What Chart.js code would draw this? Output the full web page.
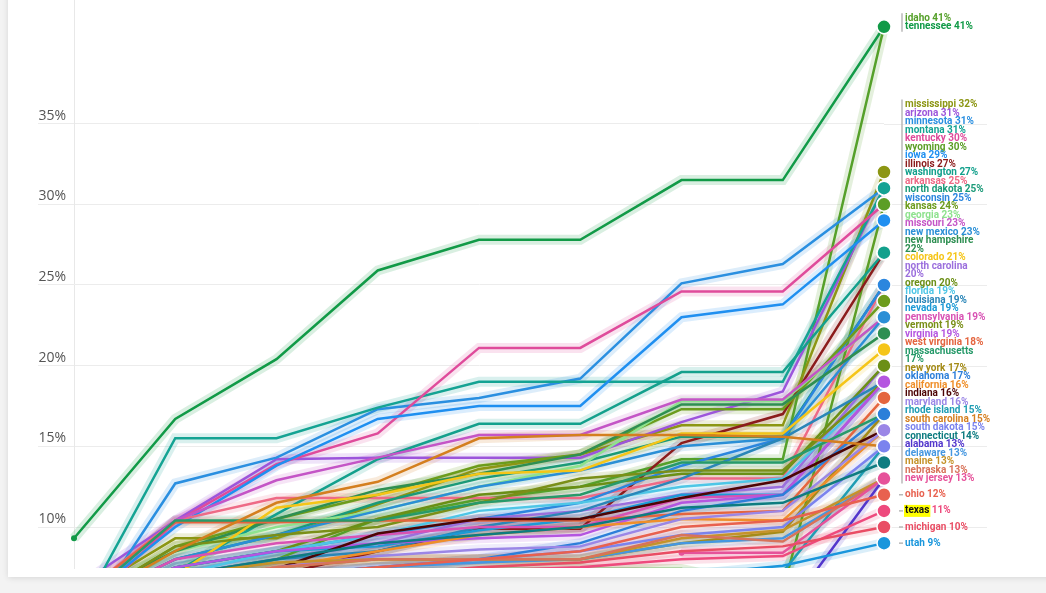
<!DOCTYPE html>
<html>
<head>
<meta charset="utf-8">
<script src="https://cdn.jsdelivr.net/npm/chart.js@4.4.1/dist/chart.umd.min.js"></script>
<style>
  html, body { margin: 0; padding: 0; background: #f3f3f3; overflow: hidden; width: 1046px; height: 593px; }
  #card { position: absolute; left: 8px; top: -10px; width: 1070px; height: 587px; background: #fff; box-shadow: 0 1px 6px rgba(0,0,0,0.12); overflow: hidden; }
  #wrap { position: absolute; left: 0; top: 2px; width: 1038px; height: 586px; }
</style>
</head>
<body>
<div id="card"><div id="wrap"><canvas id="chart"></canvas></div></div>
<script>
const periods = ['1', '2', '3', '4', '5', '6', '7', '8', '9'];
const yTicks = [10, 15, 20, 25, 30, 35];

const states = [
  'idaho', 'tennessee', 'mississippi', 'arizona', 'minnesota', 'montana', 'kentucky', 'wyoming',
  'iowa', 'illinois', 'washington', 'arkansas', 'north dakota', 'wisconsin', 'kansas', 'georgia',
  'missouri', 'new mexico', 'new hampshire', 'colorado', 'north carolina', 'oregon', 'florida',
  'louisiana', 'nevada', 'pennsylvania', 'vermont', 'virginia', 'west virginia', 'massachusetts',
  'new york', 'oklahoma', 'california', 'indiana', 'maryland', 'rhode island', 'south carolina',
  'south dakota', 'connecticut', 'alabama', 'delaware', 'maine', 'nebraska', 'new jersey',
  'ohio', 'texas', 'michigan', 'utah'
];

const colors = [
  '#55a02a', '#119a47', '#8c9613', '#9c55db', '#2a8fe0', '#14a393', '#df4b9b', '#5c9e26',
  '#1f8ff0', '#8b1c1c', '#13a08c', '#ee6a86', '#1b9a78', '#2b86de', '#6c9c1c', '#8ee28e',
  '#c455c6', '#2b8fd6', '#2e8f52', '#f5c518', '#9b6fdd', '#6b8f16', '#4ec6e6',
  '#2a86b8', '#1c9ad6', '#d852b4', '#7a8f18', '#b456e0', '#e4653f', '#279a6a',
  '#a48b17', '#2c7fd9', '#ef8f2a', '#4d0505', '#9b86e6', '#1f9db3', '#d47f1f',
  '#7b83ee', '#0e7c80', '#5236cc', '#4597e0', '#c5932a', '#d8735a', '#e6529a',
  '#e8614f', '#ee4a7d', '#e94d64', '#1996dc'
];

const wrapped = ['new hampshire', 'north carolina', 'massachusetts'];
const highlighted = ['texas'];

// percent values per period
const idaho         = [5.0, 6.5, 8.0, 10.5, 11.7, 12.5, 14.2, 14.2, 41];
const tennessee     = [9.3, 16.7, 20.4, 25.9, 27.8, 27.8, 31.5, 31.5, 41];
const mississippi   = [5.5, 9.3, 9.3, 11.4, 13.6, 14.5, 16.3, 16.3, 32];
const arizona       = [6.2, 10.4, 14.2, 14.3, 14.3, 14.3, 16.5, 18.4, 31];
const minnesota     = [3.2, 12.7, 14.3, 17.3, 18.0, 19.2, 25.1, 26.3, 31];
const montana       = [4.0, 15.5, 15.5, 17.4, 19.0, 19.0, 19.0, 19.0, 31];
const kentucky      = [4.5, 10.3, 13.9, 15.8, 21.1, 21.1, 24.6, 24.6, 30];
const wyoming       = [4.5, 6.0, 6.8, 7.2, 7.4, 7.4, 7.4, 6.0, 30];
const iowa          = [5.0, 10.0, 13.8, 16.7, 17.5, 17.5, 23.0, 23.8, 29];
const illinois      = [5.0, 6.0, 7.0, 8.5, 9.9, 9.9, 15.2, 17.0, 27];
const washington    = [5.5, 7.2, 10.8, 14.2, 16.4, 16.4, 19.6, 19.6, 27];
const arkansas      = [5.5, 10.4, 11.8, 11.8, 11.8, 11.8, 13.0, 13.0, 25];
const northDakota   = [5.0, 8.0, 9.5, 11.5, 13.0, 14.0, 15.6, 15.6, 25];
const wisconsin     = [4.5, 7.5, 8.5, 9.5, 10.5, 11.5, 13.8, 15.5, 25];
const kansas        = [5.0, 8.8, 10.5, 12.0, 13.8, 14.5, 17.3, 17.3, 24];
const georgia       = [5.5, 8.5, 10.0, 11.0, 12.5, 13.8, 17.8, 17.8, 23];
const missouri      = [5.0, 10.4, 12.9, 14.3, 15.7, 15.7, 17.9, 17.9, 23];
const newMexico     = [5.0, 8.0, 9.5, 11.0, 12.5, 13.5, 15.0, 15.5, 23];
const newHampshire  = [5.5, 8.5, 10.5, 12.3, 13.3, 14.5, 17.6, 17.6, 22];
const colorado      = [4.5, 7.0, 11.2, 12.0, 13.3, 13.5, 15.8, 15.8, 21];
const northCarolina = [4.5, 7.0, 8.0, 9.0, 10.5, 11.0, 12.0, 12.5, 20];
const oregon        = [5.0, 7.5, 8.5, 10.5, 12.0, 12.5, 13.3, 13.3, 20];
const florida       = [5.0, 7.0, 8.5, 9.5, 11.0, 11.5, 12.5, 13.0, 19];
const louisiana     = [4.5, 7.0, 8.0, 8.5, 10.0, 11.0, 13.0, 15.5, 19];
const nevada        = [4.5, 7.5, 8.5, 8.8, 9.8, 10.5, 12.0, 12.0, 19];
const pennsylvania  = [5.0, 8.0, 9.0, 9.5, 10.0, 10.0, 11.8, 12.0, 19];
const vermont       = [5.0, 8.8, 9.5, 10.0, 11.5, 13.0, 13.5, 13.5, 19];
const virginia      = [5.0, 7.5, 8.5, 9.0, 9.3, 9.5, 11.5, 12.0, 19];
const westVirginia  = [5.5, 10.3, 10.3, 10.4, 10.4, 10.4, 10.8, 11.0, 18];
const massachusetts = [5.0, 10.4, 10.4, 10.4, 11.5, 12.0, 14.0, 14.0, 17];
const newYork       = [4.5, 6.5, 7.5, 8.0, 8.0, 8.0, 9.0, 9.7, 17];
const oklahoma      = [4.5, 6.5, 7.0, 7.5, 8.0, 9.0, 11.0, 12.0, 17];
const california    = [5.0, 6.5, 7.5, 8.5, 9.5, 10.0, 10.5, 10.4, 16];
const indiana       = [5.0, 6.0, 7.4, 9.6, 10.5, 10.5, 11.8, 12.9, 16];
const maryland      = [4.5, 6.5, 7.5, 8.2, 8.6, 8.8, 10.5, 11.0, 16];
const rhodeIsland   = [null, 7.2, 7.2, 7.2, 7.2, 7.2, 7.2, 7.2, 15];
const southCarolina = [5.0, 8.5, 11.5, 12.8, 15.5, 15.7, 15.7, 15.6, 15];
const southDakota   = [4.5, 6.5, 7.0, 7.5, 8.0, 8.5, 9.5, 10.0, 15];
const connecticut   = [4.5, 7.0, 8.0, 9.0, 9.5, 10.0, 11.2, 11.5, 14];
const alabama       = [3.5, 4.0, 4.5, 5.0, 5.0, 5.0, 5.0, 4.5, 13];
const delaware      = [4.5, 6.0, 7.0, 7.5, 7.8, 8.0, 9.0, 9.3, 13];
const maine         = [5.0, 7.0, 7.8, 8.0, 8.0, 8.0, 9.3, 9.8, 13];
const nebraska      = [4.5, 6.5, 7.5, 8.0, 8.0, 8.0, 9.5, 9.1, 13];
const newJersey     = [null, null, null, null, null, null, 8.4, 8.4, 13];
const ohio          = [4.5, 6.5, 7.0, 7.5, 8.0, 8.5, 10.0, 10.4, 12];
const texas         = [4.0, 6.0, 6.5, 7.0, 7.3, 7.5, 8.0, 8.2, 11];
const michigan      = [4.5, 6.0, 6.5, 7.0, 7.5, 7.8, 8.5, 8.8, 10];
const utah          = [4.0, 5.5, 6.0, 6.2, 6.5, 6.8, 7.0, 7.6, 9];

const series = [
  idaho, tennessee, mississippi, arizona, minnesota, montana, kentucky, wyoming,
  iowa, illinois, washington, arkansas, northDakota, wisconsin, kansas, georgia,
  missouri, newMexico, newHampshire, colorado, northCarolina, oregon, florida,
  louisiana, nevada, pennsylvania, vermont, virginia, westVirginia, massachusetts,
  newYork, oklahoma, california, indiana, maryland, rhodeIsland, southCarolina,
  southDakota, connecticut, alabama, delaware, maine, nebraska, newJersey,
  ohio, texas, michigan, utah
];

function withAlpha(hex, a) {
  const n = parseInt(hex.slice(1), 16);
  return `rgba(${n >> 16},${(n >> 8) & 255},${n & 255},${a})`;
}

const lastIdx = periods.length - 1;
const clipBox = { left: 6, top: 10, right: 12, bottom: 0 };

const glowSets = series.map((d, i) => ({
  data: d,
  borderColor: withAlpha(colors[i], 0.16),
  borderWidth: 10,
  pointRadius: 0,
  order: 1000,
  clip: clipBox
}));

const lineSets = series.map((d, i) => {
  const first = d.findIndex(v => v !== null);
  return {
    data: d,
    borderColor: colors[i],
    borderWidth: 2.5,
    pointBackgroundColor: colors[i],
    pointBorderColor: '#fff',
    pointRadius: c => c.dataIndex === lastIdx ? 7 : (c.dataIndex === first ? 3 : 0),
    pointBorderWidth: c => c.dataIndex === lastIdx ? 1.5 : 0,
    order: series.length - i,
    clip: clipBox
  };
});

const endLabels = {
  id: 'endLabels',
  beforeDatasetsDraw(chart) {
    const { ctx, chartArea, scales: { y } } = chart;
    ctx.save();
    ctx.strokeStyle = '#ececec';
    ctx.lineWidth = 1;
    yTicks.forEach(v => {
      const py = Math.round(y.getPixelForValue(v)) + 0.5;
      ctx.beginPath();
      ctx.moveTo(chartArea.right, py);
      ctx.lineTo(chartArea.right + 103, py);
      ctx.stroke();
    });
    ctx.restore();
  },
  afterDatasetsDraw(chart) {
    const { ctx, chartArea, scales: { y } } = chart;
    const gap = 8.5;
    const lx = chartArea.right + 21;
    const items = states.map((s, i) => ({
      name: s,
      val: series[i][lastIdx],
      color: colors[i],
      ty: y.getPixelForValue(series[i][lastIdx]),
      lines: wrapped.includes(s) ? 2 : 1
    }));
    // push labels upward from the bottom so they do not overlap
    for (let i = items.length - 1; i >= 0; i--) {
      const it = items[i];
      it.y = it.ty;
      if (i < items.length - 1) {
        const lim = items[i + 1].y - gap * it.lines;
        if (it.y >= lim) { it.y = lim; it.linked = true; }
      }
    }
    ctx.save();
    ctx.strokeStyle = '#b8b8b8';
    ctx.lineWidth = 1.5;
    let start = 0;
    for (let i = 0; i < items.length; i++) {
      if (items[i].linked) continue;
      const grp = items.slice(start, i + 1);
      const top = grp[0].y, last = grp[grp.length - 1];
      const bottom = last.y + gap * (last.lines - 1);
      ctx.beginPath();
      if (grp.length > 1) {
        ctx.moveTo(chartArea.right + 18, top - 5);
        ctx.lineTo(chartArea.right + 18, bottom + 5);
      } else {
        ctx.moveTo(chartArea.right + 15, top);
        ctx.lineTo(chartArea.right + 19, top);
      }
      ctx.stroke();
      start = i + 1;
    }
    ctx.font = 'bold 10px Roboto';
    ctx.textBaseline = 'middle';
    ctx.textAlign = 'left';
    items.forEach(it => {
      const pct = Math.round(it.val) + '%';
      if (it.lines === 2) {
        ctx.fillStyle = it.color;
        ctx.fillText(it.name, lx, it.y);
        ctx.fillText(pct, lx, it.y + gap);
        return;
      }
      const w = ctx.measureText(it.name).width;
      if (highlighted.includes(it.name)) {
        ctx.fillStyle = '#ffff00';
        ctx.fillRect(lx - 1, it.y - 6, w + 2, 12);
        ctx.fillStyle = '#111';
      } else {
        ctx.fillStyle = it.color;
      }
      ctx.fillText(it.name, lx, it.y);
      ctx.fillStyle = it.color;
      ctx.fillText(' ' + pct, lx + w, it.y);
    });
    ctx.restore();
  }
};

new Chart(document.getElementById('chart'), {
  type: 'line',
  data: { labels: periods, datasets: [...glowSets, ...lineSets] },
  options: {
    responsive: true,
    maintainAspectRatio: false,
    animation: false,
    events: [],
    layout: { padding: { left: 30, right: 162, top: 0, bottom: 10 } },
    plugins: { legend: { display: false }, tooltip: { enabled: false } },
    elements: { line: { tension: 0 } },
    scales: {
      x: { display: false },
      y: {
        min: 7.46,
        max: 42.63,
        afterBuildTicks: s => { s.ticks = yTicks.map(v => ({ value: v })); },
        afterFit: s => { s.width = 36; },
        ticks: {
          callback: v => v + '%',
          color: '#555',
          font: { family: 'Open Sans', size: 14 },
          padding: -28,
          labelOffset: -8
        },
        grid: { color: '#ececec', drawTicks: true, tickLength: 36, tickColor: '#ececec' },
        border: { display: true, color: '#e8e8e8' }
      }
    }
  },
  plugins: [endLabels]
});
</script>
</body>
</html>
